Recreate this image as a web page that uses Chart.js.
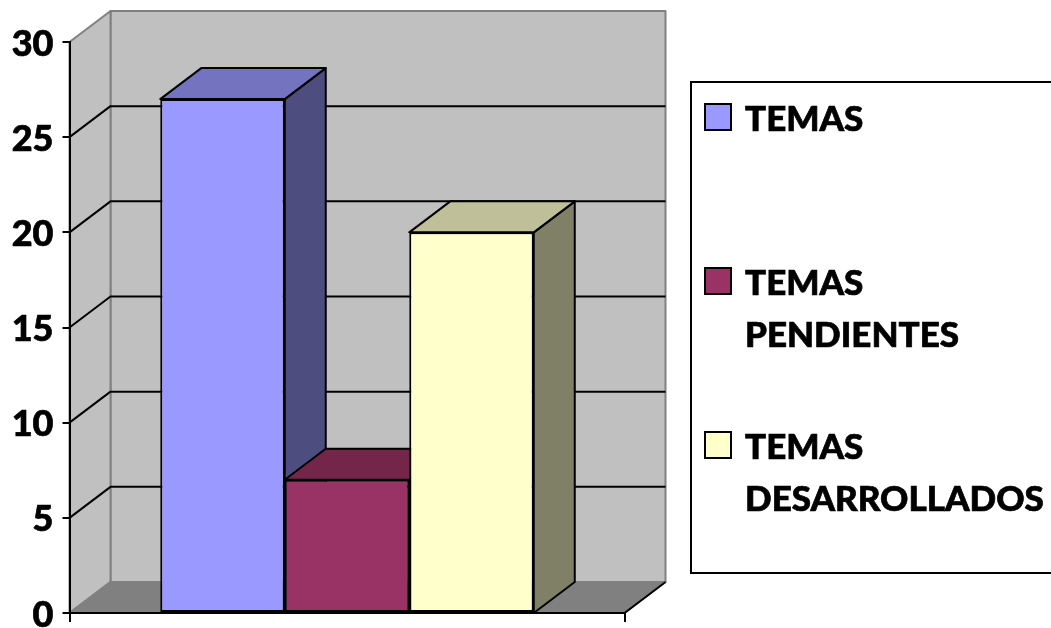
<!DOCTYPE html>
<html>
<head>
<meta charset="utf-8">
<style>
  html, body { margin: 0; padding: 0; background: #fff; overflow: hidden; }
  canvas { display: block; }
</style>
<script src="https://cdn.jsdelivr.net/npm/chart.js@4"></script>
</head>
<body>
<canvas id="myChart" width="1051" height="628"></canvas>
<script>
const categories = [""];
const seriesNames = ["TEMAS", "TEMAS PENDIENTES", "TEMAS DESARROLLADOS"];
const seriesValues = [27, 7, 20];
const frontColors = ["#9999ff", "#993366", "#ffffcc"];
const sideColors = ["#4d4d80", "#4d1a33", "#808066"];
const topColors = ["#7373bf", "#732649", "#bfbf99"];
const gridValues = [5, 10, 15, 20, 25];

const depthX = 41;
const depthY = 31;
const font = "900 35px Lato";

function poly(ctx, points, fill, stroke, width) {
  ctx.beginPath();
  ctx.moveTo(points[0][0], points[0][1]);
  for (let i = 1; i < points.length; i++) {
    ctx.lineTo(points[i][0], points[i][1]);
  }
  ctx.closePath();
  ctx.fillStyle = fill;
  ctx.fill();
  ctx.lineJoin = "round";
  ctx.lineWidth = width;
  ctx.strokeStyle = stroke;
  ctx.stroke();
}

const walls = {
  id: "walls",
  beforeDraw(chart) {
    const ctx = chart.ctx;
    const a = chart.chartArea;
    const y = chart.scales.y;
    ctx.save();
    // back wall, left wall, floor
    poly(ctx, [[a.left + depthX, a.top - depthY], [a.right + depthX, a.top - depthY],
      [a.right + depthX, a.bottom - depthY], [a.left + depthX, a.bottom - depthY]], "#c0c0c0", "#808080", 2);
    poly(ctx, [[a.left, a.top], [a.left + depthX, a.top - depthY],
      [a.left + depthX, a.bottom - depthY], [a.left, a.bottom]], "#c0c0c0", "#808080", 2);
    poly(ctx, [[a.left, a.bottom], [a.left + depthX, a.bottom - depthY],
      [a.right + depthX, a.bottom - depthY], [a.right, a.bottom]], "#808080", "#808080", 2);

    ctx.strokeStyle = "#000";
    ctx.lineWidth = 2;
    ctx.beginPath();
    ctx.moveTo(a.right, a.bottom);
    ctx.lineTo(a.right + depthX, a.bottom - depthY);
    ctx.stroke();
    for (let i = 0; i < gridValues.length; i++) {
      const py = y.getPixelForValue(gridValues[i]);
      ctx.beginPath();
      ctx.moveTo(a.left, py);
      ctx.lineTo(a.left + depthX, py - depthY);
      ctx.lineTo(a.right + depthX, py - depthY);
      ctx.stroke();
    }
    ctx.restore();
  },
  beforeDatasetsDraw(chart) {
    const ctx = chart.ctx;
    const base = chart.scales.y.getPixelForValue(0);
    ctx.save();
    for (let i = 0; i < seriesValues.length; i++) {
      const bar = chart.getDatasetMeta(i).data[0];
      const left = bar.x - bar.width / 2;
      const right = bar.x + bar.width / 2;
      poly(ctx, [[right, bar.y], [right + depthX, bar.y - depthY],
        [right + depthX, base - depthY], [right, base]], sideColors[i], "#000", 2);
      poly(ctx, [[left, bar.y], [left + depthX, bar.y - depthY],
        [right + depthX, bar.y - depthY], [right, bar.y]], topColors[i], "#000", 2);
    }
    ctx.restore();
  },
  afterDraw(chart) {
    const ctx = chart.ctx;
    ctx.save();
    // legend box runs off the right edge of the picture
    ctx.strokeStyle = "#000";
    ctx.lineWidth = 2;
    ctx.strokeRect(691, 82, 400, 491);

    const swatchY = [104, 268, 432];
    ctx.font = font;
    ctx.textBaseline = "alphabetic";
    for (let i = 0; i < seriesNames.length; i++) {
      ctx.lineWidth = 2;
      ctx.fillStyle = frontColors[i];
      ctx.fillRect(705, swatchY[i], 26, 26);
      ctx.strokeRect(705, swatchY[i], 26, 26);
      ctx.fillStyle = "#000";
      ctx.lineWidth = 0.7;
      const parts = seriesNames[i].split(" ");
      for (let j = 0; j < parts.length; j++) {
        ctx.fillText(parts[j], 745, swatchY[i] + 27 + j * 52);
        ctx.strokeText(parts[j], 745, swatchY[i] + 27 + j * 52);
      }
    }
    ctx.restore();
  }
};

new Chart(document.getElementById("myChart"), {
  type: "bar",
  data: {
    labels: categories,
    datasets: seriesValues.map((v, i) => ({
      label: seriesNames[i],
      data: [v],
      backgroundColor: frontColors[i],
      borderColor: "#000",
      borderWidth: 2,
      borderSkipped: false,
      barPercentage: 1,
      categoryPercentage: 0.673
    }))
  },
  plugins: [walls],
  options: {
    responsive: false,
    animation: false,
    layout: { padding: { left: 0, right: 426.5, top: 42, bottom: 0 } },
    plugins: { legend: { display: false }, tooltip: { enabled: false } },
    scales: {
      x: {
        afterFit(scale) { scale.height = 15; scale.paddingLeft = 0; scale.paddingRight = 0; },
        ticks: { display: false },
        border: { color: "#000", width: 2 },
        grid: { offset: true, drawOnChartArea: false, color: "#000", lineWidth: 2, tickLength: 9 }
      },
      y: {
        min: 0,
        max: 30,
        afterFit(scale) { scale.width = 69.5; scale.paddingTop = 0; scale.paddingBottom = 0; },
        ticks: { stepSize: 5, color: "#000", font: { family: "Lato", size: 36, weight: "900" }, padding: 9, labelOffset: 2, textStrokeColor: "#000", textStrokeWidth: 0.7 },
        border: { color: "#000", width: 2 },
        grid: { drawOnChartArea: false, color: "#000", lineWidth: 2, tickLength: 7 }
      }
    }
  }
});
</script>
</body>
</html>
